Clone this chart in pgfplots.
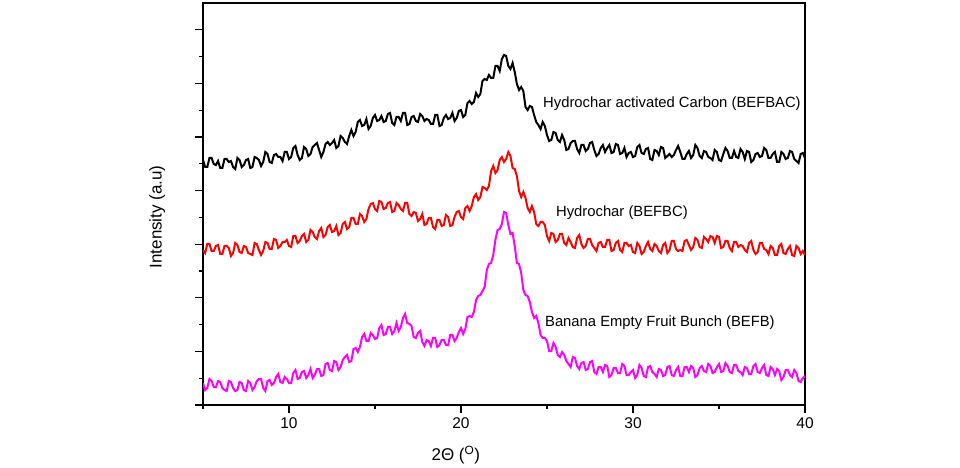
\documentclass[border=0pt]{standalone}
\usepackage{pgfplots}
\pgfplotsset{compat=1.18}
\usepackage{pgfplotstable}
\usepackage{fontspec}
\setmainfont{Liberation Sans}
\definecolor{mag}{RGB}{255,0,255}
\definecolor{rd}{RGB}{255,0,0}
\pgfplotstableread{
x bac bc b
5.000 245 155 22
5.125 238 152 15
5.250 238 161 17
5.375 247 161 26
5.500 247 154 24
5.625 241 154 18
5.750 240 159 18
5.875 244 160 24
6.000 237 151 23
6.125 237 151 17
6.250 246 159 15
6.375 246 159 14
6.500 243 157 24
6.625 244 149 23
6.750 238 152 17
6.875 236 162 14
7.000 247 160 15
7.125 245 153 23
7.250 238 152 22
7.375 240 159 15
7.500 245 158 14
7.625 246 152 24
7.750 237 151 22
7.875 238 150 15
8.000 248 162 18
8.125 247 161 24
8.250 245 155 26
8.375 239 150 26
8.500 243 154 17
8.625 253 163 14
8.750 251 162 24
8.875 243 156 25
9.000 242 156 20
9.125 250 166 22
9.250 251 165 28
9.375 248 157 31
9.500 248 159 23
9.625 244 163 22
9.750 253 163 28
9.875 253 165 26
10.000 246 159 22
10.125 248 158 22
10.250 257 169 32
10.375 259 169 35
10.500 250 162 26
10.625 245 164 27
10.750 247 169 33
10.875 258 171 34
11.000 256 163 27
11.125 249 165 30
11.250 251 175 36
11.375 258 173 27
11.500 260 168 30
11.625 262 166 36
11.750 255 174 36
11.875 248 177 29
12.000 253 168 30
12.125 261 170 41
12.250 263 178 42
12.375 260 180 35
12.500 262 173 34
12.625 265 174 44
12.750 257 179 43
12.875 259 170 35
13.000 269 172 38
13.125 267 181 45
13.250 263 183 48
13.375 261 176 50
13.500 269 178 43
13.625 275 187 44
13.750 269 187 56
13.875 273 181 57
14.000 283 181 53
14.125 285 191 58
14.250 279 189 68
14.375 280 183 71
14.500 286 186 64
14.625 276 196 64
14.750 279 201 72
14.875 287 202 70
15.000 290 196 66
15.125 284 194 67
15.250 285 204 77
15.375 289 203 80
15.500 283 196 70
15.625 284 197 71
15.750 291 202 78
15.875 292 203 78
16.000 282 193 71
16.125 280 194 74
16.250 288 202 82
16.375 288 200 74
16.500 284 196 78
16.625 292 194 87
16.750 292 202 91
16.875 280 202 82
17.000 281 191 81
17.125 288 189 79
17.250 289 193 68
17.375 284 192 67
17.500 283 184 72
17.625 291 186 74
17.750 289 191 63
17.875 284 180 59
18.000 286 181 65
18.125 285 187 64
18.250 281 187 59
18.375 281 178 67
18.500 290 176 67
18.625 290 185 58
18.750 279 185 60
18.875 280 179 65
19.000 287 180 65
19.125 290 190 60
19.250 286 188 60
19.375 287 179 70
19.500 292 180 70
19.625 284 188 64
19.750 287 193 67
19.875 294 194 73
20.000 295 188 77
20.125 288 186 71
20.250 290 197 76
20.375 302 199 88
20.500 304 194 89
20.625 301 199 88
20.750 303 208 93
20.875 312 211 105
21.000 308 205 109
21.125 311 208 110
21.250 324 218 114
21.375 326 217 118
21.500 325 215 135
21.625 330 219 141
21.750 327 234 142
21.875 327 239 150
22.000 339 232 165
22.125 339 235 175
22.250 334 245 176
22.375 346 248 181
22.500 350 243 193
22.625 349 246 192
22.750 339 253 180
22.875 336 249 171
23.000 342 237 172
23.125 333 236 159
23.250 321 229 142
23.375 315 214 141
23.500 318 208 132
23.625 314 213 115
23.750 298 207 110
23.875 295 197 109
24.000 299 193 103
24.125 298 199 93
24.250 290 193 87
24.375 283 181 89
24.500 280 179 82
24.625 276 183 70
24.750 283 183 67
24.875 279 180 67
25.000 270 169 64
25.125 264 164 54
25.250 265 172 54
25.375 273 171 62
25.500 272 163 58
25.625 265 165 50
25.750 263 171 48
25.875 270 171 53
26.000 265 162 50
26.125 255 160 44
26.250 256 167 41
26.375 262 163 38
26.500 264 158 48
26.625 264 157 47
26.750 256 167 39
26.875 252 170 36
27.000 260 161 42
27.125 260 157 43
27.250 254 159 35
27.375 256 166 36
27.500 262 166 43
27.625 263 160 44
27.750 255 157 33
27.875 249 154 31
28.000 251 162 38
28.125 257 163 38
28.250 260 158 33
28.375 253 158 40
28.500 257 165 39
28.625 260 165 28
28.750 252 154 30
28.875 253 155 37
29.000 261 162 37
29.125 260 164 32
29.250 251 155 32
29.375 252 153 41
29.500 257 162 39
29.625 248 162 30
29.750 252 159 30
29.875 253 160 33
30.000 248 153 35
30.125 249 152 27
30.250 258 162 30
30.375 260 159 40
30.500 252 151 37
30.625 251 153 29
30.750 256 159 28
30.875 257 163 38
31.000 246 156 39
31.125 245 154 33
31.250 255 161 31
31.375 254 159 28
31.500 250 154 36
31.625 258 152 35
31.750 257 160 29
31.875 247 162 30
32.000 249 152 38
32.125 251 155 39
32.250 248 164 30
32.375 250 164 29
32.500 255 156 35
32.625 259 154 38
32.750 253 155 29
32.875 246 154 29
33.000 246 164 38
33.125 251 165 38
33.250 254 160 33
33.375 247 155 39
33.500 250 158 37
33.625 260 167 28
33.750 257 165 30
33.875 249 158 37
34.000 247 157 39
34.125 254 168 34
34.250 253 166 33
34.375 248 163 41
34.500 247 169 39
34.625 245 168 32
34.750 255 162 33
34.875 253 169 38
35.000 245 168 41
35.125 244 157 33
35.250 251 158 34
35.375 257 164 42
35.500 254 164 39
35.625 247 157 33
35.750 247 154 32
35.875 254 163 40
36.000 248 163 40
36.125 247 158 34
36.250 256 160 33
36.375 253 159 30
36.500 246 155 38
36.625 254 153 37
36.750 253 162 31
36.875 243 164 31
37.000 245 155 39
37.125 251 151 41
37.250 252 153 33
37.375 248 162 32
37.500 249 162 37
37.625 257 156 40
37.750 255 155 30
37.875 247 151 29
38.000 247 159 38
38.125 251 157 36
38.250 253 150 30
38.375 243 150 36
38.500 243 159 34
38.625 253 161 25
38.750 251 152 28
38.875 246 151 35
39.000 247 156 35
39.125 254 159 30
39.250 253 150 28
39.375 246 149 35
39.500 244 159 32
39.625 242 157 24
39.750 251 151 23
39.875 252 154 27
40.000 247 150 29
}\xrd
\begin{document}
\begin{tikzpicture}
\path[use as bounding box] (-203bp,-63bp) rectangle (757bp,405bp);
\begin{axis}[
  at={(0,0)}, anchor=south west,
  scale only axis, width=602bp, height=402bp,
  xmin=5, xmax=40, ymin=0, ymax=402,
  xtick={10,20,30,40}, minor xtick={5,15,25,35},
  ytick={0,53.6,107.2,160.8,214.4,268,321.6,375.2},
  minor ytick={26.8,80.4,134,187.6,241.2,294.8,348.4},
  yticklabels={},
  tick align=outside, tick pos=left,
  major tick length=7.5bp, minor tick length=4bp,
  every tick/.style={black, line width=1.1bp},
  axis line style={line width=1.2bp},
  /pgf/number format/assume math mode=true,
  ticklabel style={font=\fontsize{15.5bp}{18bp}\selectfont},
  xticklabel style={yshift=-2bp},
  xlabel={2Θ (\textsuperscript{O})},
  ylabel={Intensity (a.u)},
  xlabel style={font=\fontsize{17bp}{20bp}\selectfont, at={(axis description cs:0.42,-0.124)}, anchor=center},
  ylabel style={font=\fontsize{17bp}{20bp}\selectfont, at={(axis description cs:-0.076,0.468)}, anchor=center},
  clip=true,
]
\addplot[black, line width=2bp] table[x=x, y=bac] {\xrd};
\addplot[rd, line width=2bp] table[x=x, y=bc] {\xrd};
\addplot[mag, line width=2bp] table[x=x, y=b] {\xrd};
\node[anchor=west, inner sep=0pt, font=\fontsize{14.8bp}{17bp}\selectfont] at (axis cs:24.77,301) {Hydrochar activated Carbon (BEFBAC)};
\node[anchor=west, inner sep=0pt, font=\fontsize{14.8bp}{17bp}\selectfont] at (axis cs:25.52,192) {Hydrochar (BEFBC)};
\node[anchor=west, inner sep=0pt, font=\fontsize{14.8bp}{17bp}\selectfont] at (axis cs:24.88,82) {Banana Empty Fruit Bunch (BEFB)};
\end{axis}
\end{tikzpicture}
\end{document}
